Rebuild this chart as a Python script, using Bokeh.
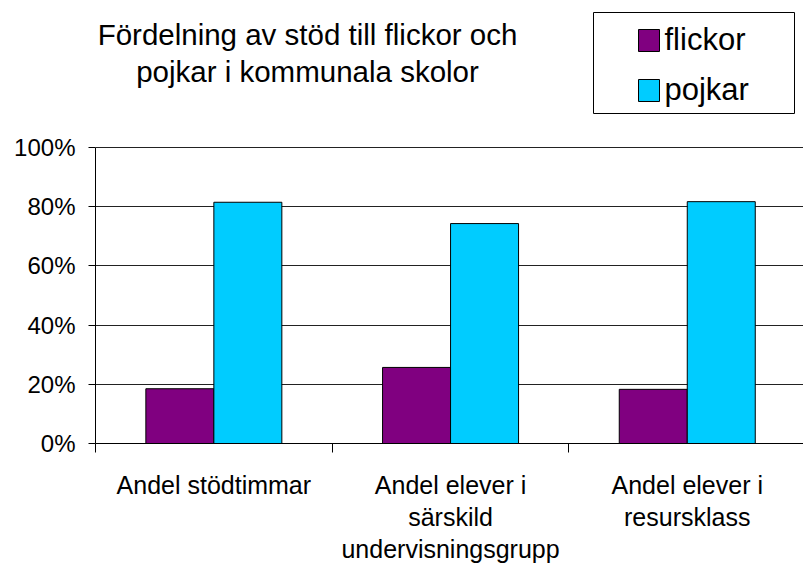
from bokeh.plotting import figure
from bokeh.models import Range1d, FixedTicker, NumeralTickFormatter, Label, BoxAnnotation
from bokeh.embed import file_html
from bokeh.resources import INLINE

# ---- data ----
categories = ["Andel stödtimmar",
              "Andel elever i\nsärskild\nundervisningsgrupp",
              "Andel elever i\nresursklass"]
series_names = ["flickor", "pojkar"]
flickor = [0.185, 0.257, 0.183]
pojkar = [0.815, 0.743, 0.817]
y_ticks = [0, 0.2, 0.4, 0.6, 0.8, 1.0]
title_lines = ["Fördelning av stöd till flickor och", "pojkar i kommunala skolor"]

colors = {"flickor": "#800080", "pojkar": "#00CCFF"}
FONT = "Liberation Sans"

# ---- layout in pixels (picture coords) ----
W, H = 803, 570
FL, FR, FB = 95, 803, 443
Y100 = 147
CAT_W = 236.7
PX_Y = FB - Y100
x_end = (FR - FL) / CAT_W
y_end = FB / PX_Y

def dx(px):
    return (px - FL) / CAT_W

def dy(py):
    return (FB - py) / PX_Y

p = figure(width=W, height=H, output_backend="svg", toolbar_location=None,
           x_range=Range1d(0, x_end), y_range=Range1d(0, y_end),
           min_border_left=FL, min_border_right=0,
           min_border_top=0, min_border_bottom=H - FB)
p.outline_line_color = None
p.background_fill_color = "white"
p.border_fill_color = "white"

bar_w = 68 / CAT_W
idx = list(range(len(categories)))
p.vbar(x=[i + 0.5 - bar_w / 2 for i in idx], top=flickor, width=bar_w,
       fill_color=colors["flickor"], line_color="black", line_width=1)
p.vbar(x=[i + 0.5 + bar_w / 2 for i in idx], top=pojkar, width=bar_w,
       fill_color=colors["pojkar"], line_color="black", line_width=1)

# y axis
p.yaxis.ticker = FixedTicker(ticks=y_ticks)
p.yaxis.bounds = (0, 1)
p.yaxis.formatter = NumeralTickFormatter(format="0%")
p.yaxis.minor_tick_line_color = None
p.yaxis.major_tick_in = 0
p.yaxis.major_tick_out = 7
p.yaxis.major_label_standoff = 13
p.yaxis.major_label_text_font = FONT
p.yaxis.major_label_text_font_size = "24px"
p.yaxis.major_label_text_color = "black"
p.yaxis.axis_line_color = "black"
p.yaxis.major_tick_line_color = "black"

# x axis: labels at category centres, boundary ticks as minor ticks
p.xaxis.ticker = FixedTicker(ticks=[i + 0.5 for i in idx],
                             minor_ticks=list(range(len(categories) + 1)))
p.xaxis.major_label_overrides = {i + 0.5: c for i, c in enumerate(categories)}
p.xaxis.major_tick_line_color = None
p.xaxis.major_tick_in = 0
p.xaxis.major_tick_out = 0
p.xaxis.minor_tick_in = 0
p.xaxis.minor_tick_out = 9
p.xaxis.minor_tick_line_color = "black"
p.xaxis.axis_line_color = "black"
p.xaxis.major_label_standoff = 18
p.xaxis.major_label_text_font = FONT
p.xaxis.major_label_text_font_size = "25px"
p.xaxis.major_label_text_color = "black"
p.xaxis.major_label_text_line_height = 1.15

p.xgrid.grid_line_color = None
p.ygrid.ticker = FixedTicker(ticks=y_ticks)
p.ygrid.grid_line_color = "#222222"
p.ygrid.grid_line_width = 1

# title (inside the frame area above 100%)
for j, t in enumerate(title_lines):
    p.add_layout(Label(x=dx(307), y=dy(34 + j * 37), text=t,
                       text_align="center", text_baseline="middle",
                       text_font=FONT, text_font_size="29.5px", text_color="black"))

# legend (manual)
p.add_layout(BoxAnnotation(left=dx(593), right=dx(794), top=dy(12), bottom=dy(113),
                           fill_color="white", fill_alpha=1.0,
                           line_color="black", line_width=1, line_alpha=1.0))
for k, name in enumerate(series_names):
    top_px = 29 + k * 50
    p.add_layout(BoxAnnotation(left=dx(638), right=dx(659), top=dy(top_px), bottom=dy(top_px + 22),
                               fill_color=colors[name], fill_alpha=1.0,
                               line_color="black", line_width=1, line_alpha=1.0))
    p.add_layout(Label(x=dx(664), y=dy(top_px + 10), text=name,
                       text_align="left", text_baseline="middle",
                       text_font=FONT, text_font_size="31px", text_color="black"))

open("out.html", "w").write(file_html(p, INLINE))
